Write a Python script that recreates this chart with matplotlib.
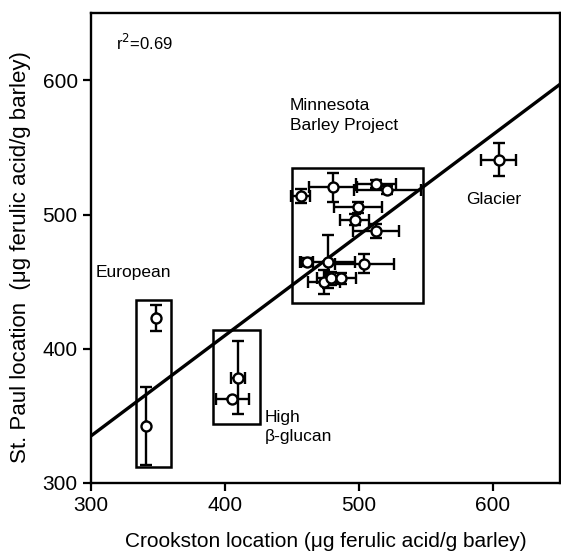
import matplotlib
matplotlib.use("Agg")
import matplotlib.pyplot as plt
from matplotlib.patches import Rectangle

plt.rcParams['font.family'] = ['Liberation Sans', 'DejaVu Sans']

# Data (ug ferulic acid / g barley)
european_x = [348.7, 341.5]
european_y = [422.9, 342.5]
european_xerr = [0, 0]
european_yerr = [9.5, 29]

highbg_x = [409.9, 405.5]
highbg_y = [378.6, 362.5]
highbg_xerr = [5, 12.5]
highbg_yerr = [27, 0]

mn_x = [456.5, 480.6, 513.0, 521.0, 499.5, 496.8, 512.8, 477.0, 461.0, 504.0, 474.0, 479.0, 486.5]
mn_y = [513.7, 520.3, 523.0, 518.0, 505.3, 496.3, 487.7, 465.0, 464.4, 463.3, 449.5, 452.5, 452.5]
mn_xerr = [7, 18, 15, 25, 18, 11, 17, 20, 5, 22, 12, 10, 11]
mn_yerr = [5, 11, 3, 3, 4, 4, 5, 20, 3, 7, 9, 5, 4]

glacier_x = [604.5]
glacier_y = [541.0]
glacier_xerr = [13]
glacier_yerr = [12]

# regression line end points
fit_x = [300, 650]
fit_y = [335, 597]
r2 = 0.69

# group boxes: (x0, y0, x1, y1)
boxes = {
    "European": (333.8, 312, 359.9, 436),
    "High": (391, 344, 426, 414.2),
    "Minnesota": (450, 434.3, 547.8, 535),
}

fig = plt.figure(figsize=(5.61, 5.52), dpi=100)
ax = fig.add_axes([0.162, 0.125, 0.836, 0.851])

ax.plot(fit_x, fit_y, color="black", lw=2.4, zorder=2)

for xs, ys, xe, ye in [(european_x, european_y, european_xerr, european_yerr),
                       (highbg_x, highbg_y, highbg_xerr, highbg_yerr),
                       (mn_x, mn_y, mn_xerr, mn_yerr),
                       (glacier_x, glacier_y, glacier_xerr, glacier_yerr)]:
    ax.errorbar(xs, ys, xerr=xe, yerr=ye, fmt="o", color="black", mfc="white",
                mec="black", ms=7.2, mew=1.7, elinewidth=1.7, capsize=4,
                capthick=1.7, zorder=3)

for name, (x0, y0, x1, y1) in boxes.items():
    ax.add_patch(Rectangle((x0, y0), x1 - x0, y1 - y0, fill=False,
                           ec="black", lw=1.8, zorder=1))

ax.text(319, 628, "r$^2$=%.2f" % r2, fontsize=12, va="center")
ax.text(448.5, 574, "Minnesota\nBarley Project", fontsize=12.5, va="center",
        linespacing=1.45)
ax.text(580, 511, "Glacier", fontsize=12.5, va="center")
ax.text(303.5, 457, "European", fontsize=12.5, va="center")
ax.text(430, 342, "High\n\u03b2-glucan", fontsize=12.5, va="center",
        linespacing=1.35)

ax.set_xlim(300, 650)
ax.set_ylim(300, 650)
ax.set_xticks([300, 400, 500, 600])
ax.set_yticks([300, 400, 500, 600])
ax.tick_params(labelsize=15, length=6, width=1.6, direction="out")
for s in ax.spines.values():
    s.set_linewidth(1.7)

ax.set_xlabel("Crookston location (\u03bcg ferulic acid/g barley)", fontsize=15, labelpad=12)
ax.set_ylabel("St. Paul location  (\u03bcg ferulic acid/g barley)", fontsize=16)
ax.yaxis.set_label_coords(-0.128, 0.481)

fig.savefig("out.png", dpi=100)
